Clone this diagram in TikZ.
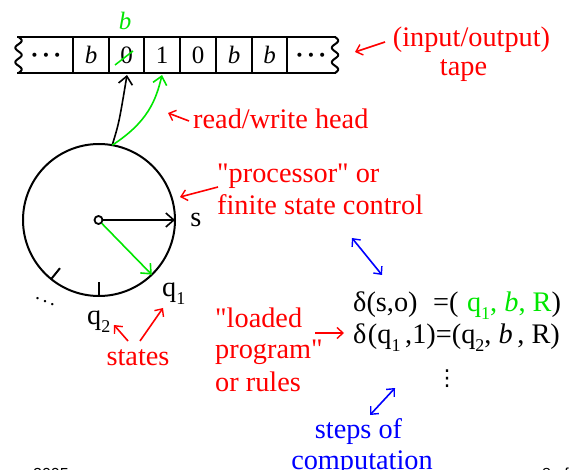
\documentclass[tikz,border=0pt]{standalone}
\usepackage{fontspec}
\setmainfont{Liberation Serif}[Ligatures=TeXOff]
\newfontfamily\sansf{Liberation Sans}
\newfontfamily\djv{DejaVu Sans}
\usetikzlibrary{arrows.meta,calc}
\definecolor{tred}{RGB}{255,0,0}
\definecolor{tgreen}{RGB}{0,230,0}
\definecolor{tblue}{RGB}{0,0,255}
\newcommand\sbs[1]{\raisebox{-0.28em}{\fontsize{18}{18}\selectfont #1}}
\newcommand\tdots{·\hspace{0.12em}·\hspace{0.12em}·}
\begin{document}
\begin{tikzpicture}[x=1pt,y=-1pt,
  big/.style={font=\fontsize{28.3}{32}\selectfont, inner sep=0pt, anchor=base west},
  redtxt/.style={big, text=tred},
  bluetxt/.style={big, text=tblue, anchor=base},
  celltxt/.style={font=\fontsize{25}{25}\selectfont, inner sep=0pt, anchor=base},
  tip/.style={-{Straight Barb[length=6pt,width=11pt,line width=1.4pt]}},
  redarr/.style={tred, line width=1.6pt, tip},
  blkarr/.style={black, line width=1.6pt, -{Straight Barb[length=8pt,width=14pt,line width=1.6pt]}},
  grnarr/.style={tgreen, line width=1.6pt, -{Straight Barb[length=8pt,width=14pt,line width=1.6pt]}},
  bluearr/.style={tblue, line width=1.6pt, {Straight Barb[length=6pt,width=11pt,line width=1.4pt]}-{Straight Barb[length=6pt,width=11pt,line width=1.4pt]}},
  divider/.style={line width=1.5pt},
  tick/.style={line width=2pt}]
\useasboundingbox (0,0) rectangle (573,470);

% ---- tape ----
\draw[line width=2pt] (17,37) -- (336,37) (17,73) -- (336,73);
\draw[line width=2pt] plot[smooth, domain=0:36, samples=37] ({18.5+3.2*sin(\x*25)}, {37+\x});
\draw[line width=2pt] plot[smooth, domain=0:36, samples=37] ({335+3.2*sin(\x*25)}, {37+\x});
\foreach \xx in {73,109,144,180,216,252,287} \draw[divider] (\xx,37) -- (\xx,73);
\node[celltxt, font=\bfseries\fontsize{25}{25}\selectfont] (c0) at (46,64) {\tdots};
\node[celltxt] (c1) at (91,64) {\textit{b}};
\node[celltxt] (c2) at (126.5,64) {0};
\node[celltxt] (c3) at (162,64) {1};
\node[celltxt] (c4) at (198,64) {0};
\node[celltxt] (c5) at (234,64) {\textit{b}};
\node[celltxt] (c6) at (269.5,64) {\textit{b}};
\node[celltxt, font=\bfseries\fontsize{25}{25}\selectfont] (c7) at (311,64) {\tdots};
\coordinate (c2s) at (127,75);
\coordinate (c3s) at (162,75);
\draw[tgreen, line width=1.5pt] (115,65) -- (133,51);
\node[celltxt, text=tgreen] (nb) at (125,30) {\textit{b}};

% ---- finite state control ----
\node[circle, draw, line width=2pt, minimum size=152pt, inner sep=0pt, outer sep=0pt] (fsc) at (99,220) {};
\node[circle, draw, line width=1.8pt, minimum size=8pt, inner sep=0pt] (ctr) at (98.5,220) {};
\draw[blkarr] (ctr) -- (fsc.east);
\draw[grnarr] (ctr) -- (fsc.-46);
\draw[tick] (fsc.-90) -- ($(fsc.-90)!14pt!(fsc.center)$);
\draw[tick] (fsc.231) -- ($(fsc.231)!14pt!(fsc.center)$);
\node[font=\fontsize{20}{20}\selectfont, inner sep=0pt] (dd) at (45,298) {$\ddots$};
\node[big, anchor=base] (ls) at (196,227) {s};
\node[big] (lq1) at (162,297) {q\sbs{1}};
\node[big] (lq2) at (87,325) {q\sbs{2}};

% ---- head ----
\draw[blkarr] (fsc.80) .. controls (119,123) .. (c2s);
\draw[grnarr] (fsc.80) .. controls (148,122) and (156,100) .. (c3s);

% ---- red labels ----
\node[redtxt, anchor=base] (tp1) at (471.5,47) {(input/output)};
\node[redtxt, anchor=base] (tp2) at (463.5,76) {tape};
\coordinate (tpa) at (385,42);
\draw[redarr] (tpa) -- (355,52);

\node[redtxt] (rw) at (193,129) {read/write head};
\coordinate (rwa) at (189,121);
\draw[redarr] (rwa) -- (168,113);

\node[redtxt] (pr1) at (217,183) {"processor" or};
\node[redtxt] (pr2) at (217,215) {finite state control};
\coordinate (pra) at (218,187);
\draw[redarr] (pra) -- (180,197);

\node[redtxt, anchor=base] (st) at (138,365) {states};
\coordinate (sta) at (128,341);
\coordinate (stb) at (140,341);
\draw[redarr] (sta) -- (114,325);
\draw[redarr] (stb) -- (163,308);

\node[redtxt] (lp1) at (215,327) {"loaded};
\node[redtxt] (lp2) at (215,359) {program"};
\node[redtxt] (lp3) at (215,391) {or rules};
\coordinate (lpa) at (315,333);
\draw[redarr] (lpa) -- (344,333);

% ---- rules ----
\node[big] (r1) at (353,312) {δ(s,o)\hspace{0.55em}=(\hspace{0.3em}\textcolor{tgreen}{q\sbs{1}, \textit{b}, R})};
\node[big] (r2) at (353,344) {δ\hspace{0.05em}(q\sbs{1}\,,1)=(q\sbs{2}, \textit{b}\,, R)};
\node[font=\djv\fontsize{22}{22}\selectfont, inner sep=0pt] (vd) at (447,379) {⋮};

% ---- blue ----
\coordinate (ba1) at (352,238);
\coordinate (ba2) at (382,275);
\draw[bluearr] (ba1) -- (ba2);
\coordinate (bb1) at (395,388);
\coordinate (bb2) at (370,415);
\draw[bluearr] (bb1) -- (bb2);
\node[bluetxt] (sp1) at (358.5,438) {steps of};
\node[bluetxt] (sp2) at (362,469) {computation};

% ---- clipped footer ----
\node[font=\sansf\fontsize{16}{16}\selectfont, inner sep=0pt, anchor=north west] (ft1) at (33,468) {2005};
\node[font=\sansf\fontsize{16}{16}\selectfont, inner sep=0pt, anchor=north west] (ft2) at (542,468) {8 of};
\end{tikzpicture}
\end{document}
